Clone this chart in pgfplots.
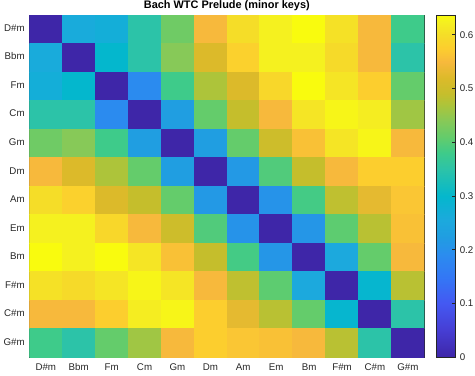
\documentclass[border=0pt]{standalone}
\usepackage{pgfplots}
\pgfplotsset{compat=1.18}
\usetikzlibrary{calc}
\usepackage{fontspec}
\setmainfont{Liberation Sans}
\definecolor{axgray}{RGB}{38,38,38}

\pgfplotsset{
  colormap={parula}{
    rgb255(0pt)=(62,38,168) rgb255(80pt)=(70,62,212) rgb255(157pt)=(68,88,242)
    rgb255(230pt)=(52,118,245) rgb255(300pt)=(43,140,239) rgb255(353pt)=(32,158,225)
    rgb255(400pt)=(28,169,221) rgb255(470pt)=(4,183,205) rgb255(550pt)=(44,195,168)
    rgb255(597pt)=(62,203,138) rgb255(644pt)=(100,204,107) rgb255(690pt)=(134,201,88)
    rgb255(738pt)=(173,196,58) rgb255(770pt)=(198,190,44) rgb255(816pt)=(220,186,42)
    rgb255(863pt)=(247,185,60) rgb255(903pt)=(252,206,46) rgb255(942pt)=(245,221,40)
    rgb255(980pt)=(245,240,32) rgb255(1000pt)=(249,251,14)
  }
}

\begin{document}
\begin{tikzpicture}
\begin{axis}[
  name=main,
  scale only axis,
  width=296.25pt, height=256.7pt,
  xmin=-0.5, xmax=11.5, ymin=-0.5, ymax=11.5,
  y dir=reverse,
  enlargelimits=false,
  xtick={0,...,11}, ytick={0,...,11},
  xticklabels={D\#m,Bbm,Fm,Cm,Gm,Dm,Am,Em,Bm,F\#m,C\#m,G\#m},
  yticklabels={D\#m,Bbm,Fm,Cm,Gm,Dm,Am,Em,Bm,F\#m,C\#m,G\#m},
  typeset ticklabels with strut,
  tick align=inside,
  major tick length=2.5pt,
  tick style={axgray, line width=0.6pt},
  axis line style={axgray, line width=0.6pt},
  ticklabel style={font=\fontsize{7.3}{8}\selectfont, text=axgray},
  xticklabel style={yshift=-1pt},
  title={Bach WTC Prelude (minor keys)},
  title style={font=\bfseries\fontsize{8.2}{9}\selectfont, yshift=-6pt},
  colormap name=parula,
  point meta min=0, point meta max=0.637,
  colorbar,
  colorbar style={
    width=14.25pt,
    ytick={0,0.1,0.2,0.3,0.4,0.5,0.6},
    ytick pos=right,
    tick align=inside,
    major tick length=2.5pt,
    tick style={axgray, line width=0.6pt},
    axis line style={axgray, line width=0.6pt},
    yticklabel style={font=\fontsize{7.3}{8}\selectfont, text=axgray},
    /pgf/number format/assume math mode=true,
  },
]
\addplot[matrix plot*, mesh/cols=12, point meta=explicit] coordinates {
(0,0)[0] (1,0)[.26] (2,0)[.27] (3,0)[.35] (4,0)[.42] (5,0)[.55] (6,0)[.60] (7,0)[.625] (8,0)[.637] (9,0)[.605] (10,0)[.55] (11,0)[.38]
(0,1)[.26] (1,1)[0] (2,1)[.30] (3,1)[.35] (4,1)[.44] (5,1)[.52] (6,1)[.58] (7,1)[.625] (8,1)[.625] (9,1)[.595] (10,1)[.55] (11,1)[.35]
(0,2)[.27] (1,2)[.30] (2,2)[0] (3,2)[.19] (4,2)[.38] (5,2)[.47] (6,2)[.52] (7,2)[.59] (8,2)[.637] (9,2)[.61] (10,2)[.575] (11,2)[.41]
(0,3)[.35] (1,3)[.35] (2,3)[.19] (3,3)[0] (4,3)[.225] (5,3)[.41] (6,3)[.49] (7,3)[.55] (8,3)[.61] (9,3)[.63] (10,3)[.62] (11,3)[.46]
(0,4)[.42] (1,4)[.44] (2,4)[.38] (3,4)[.225] (4,4)[0] (5,4)[.225] (6,4)[.41] (7,4)[.50] (8,4)[.56] (9,4)[.61] (10,4)[.63] (11,4)[.55]
(0,5)[.55] (1,5)[.52] (2,5)[.47] (3,5)[.41] (4,5)[.225] (5,5)[0] (6,5)[.215] (7,5)[.395] (8,5)[.49] (9,5)[.55] (10,5)[.575] (11,5)[.575]
(0,6)[.60] (1,6)[.58] (2,6)[.52] (3,6)[.49] (4,6)[.41] (5,6)[.215] (6,6)[0] (7,6)[.205] (8,6)[.385] (9,6)[.485] (10,6)[.53] (11,6)[.565]
(0,7)[.625] (1,7)[.625] (2,7)[.59] (3,7)[.55] (4,7)[.50] (5,7)[.395] (6,7)[.205] (7,7)[0] (8,7)[.21] (9,7)[.405] (10,7)[.48] (11,7)[.56]
(0,8)[.637] (1,8)[.625] (2,8)[.637] (3,8)[.61] (4,8)[.56] (5,8)[.49] (6,8)[.385] (7,8)[.21] (8,8)[0] (9,8)[.255] (10,8)[.41] (11,8)[.55]
(0,9)[.605] (1,9)[.595] (2,9)[.61] (3,9)[.63] (4,9)[.61] (5,9)[.55] (6,9)[.485] (7,9)[.405] (8,9)[.255] (9,9)[0] (10,9)[.295] (11,9)[.48]
(0,10)[.55] (1,10)[.55] (2,10)[.575] (3,10)[.62] (4,10)[.63] (5,10)[.575] (6,10)[.53] (7,10)[.48] (8,10)[.41] (9,10)[.295] (10,10)[0] (11,10)[.35]
(0,11)[.38] (1,11)[.35] (2,11)[.41] (3,11)[.46] (4,11)[.55] (5,11)[.575] (6,11)[.565] (7,11)[.56] (8,11)[.55] (9,11)[.48] (10,11)[.35] (11,11)[0]
};
\end{axis}
\pgfresetboundingbox
\useasboundingbox ($(main.south west)+(-22pt,-14pt)$) rectangle ($(main.north east)+(38pt,11.25pt)$);
\end{tikzpicture}
\end{document}
